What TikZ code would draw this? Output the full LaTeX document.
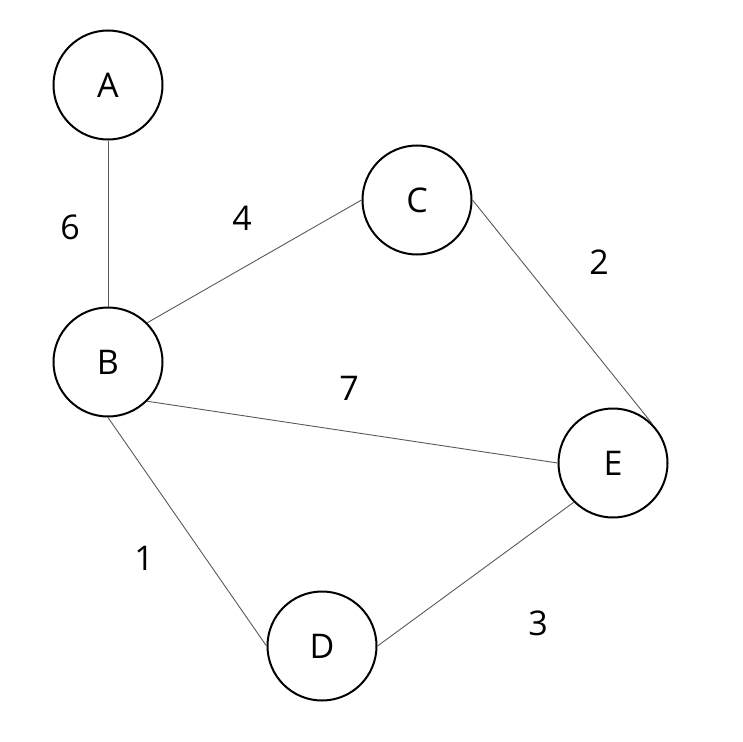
\documentclass[tikz,border=0pt]{standalone}
\usepackage{fontspec}
\setmainfont{Open Sans}
\begin{document}
\begin{tikzpicture}[x=1pt,y=1pt,
  vertex/.style={circle,draw=black,line width=2pt,minimum size=109pt,inner sep=0pt,font=\fontsize{34}{40}\selectfont},
  edge/.style={draw=black!65,line width=0.9pt},
  weight/.style={font=\fontsize{34}{40}\selectfont}]
\useasboundingbox (0,0) rectangle (743,-741);
\node[vertex] (A) at (108,-85) {A};
\node[vertex] (B) at (108,-362) {B};
\node[vertex] (C) at (417,-200) {C};
\node[vertex] (D) at (322,-646) {D};
\node[vertex] (E) at (613,-463) {E};
\draw[edge] (A.south) -- (B.north);
\draw[edge] (B.north east) -- (C.west);
\draw[edge] (B.south east) -- (E.west);
\draw[edge] (C.east) -- (E.north east);
\draw[edge] (B.south) -- (D.west);
\draw[edge] (D.east) -- (E.south west);
\node[weight] (w6) at (70,-227) {6};
\node[weight] (w4) at (242,-218) {4};
\node[weight] (w2) at (599,-262) {2};
\node[weight] (w7) at (349,-388) {7};
\node[weight] (w1) at (144,-558) {1};
\node[weight] (w3) at (538,-623) {3};
\end{tikzpicture}
\end{document}
